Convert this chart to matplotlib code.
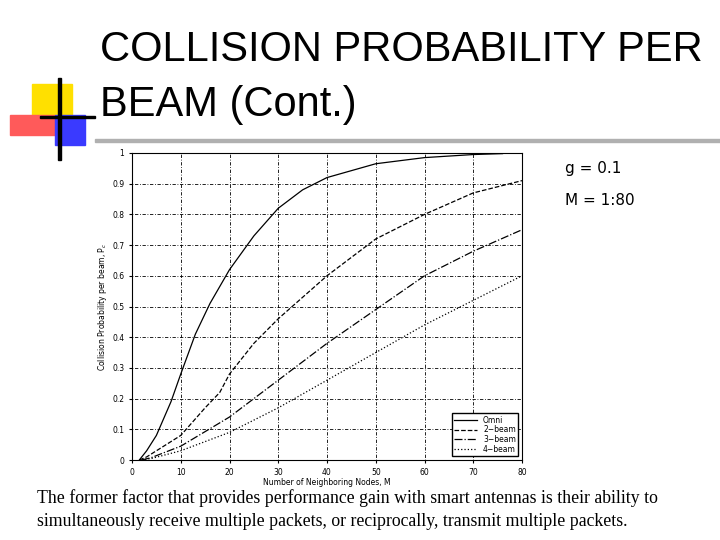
import matplotlib
matplotlib.use("Agg")
import matplotlib.pyplot as plt
from matplotlib.patches import Rectangle

omni_x = [1.5, 3, 5, 8, 10, 13, 16, 20, 25, 30, 35, 40, 50, 60, 70, 76]
omni_y = [0, 0.03, 0.08, 0.19, 0.28, 0.41, 0.51, 0.62, 0.73, 0.82, 0.88, 0.92, 0.965, 0.985, 0.995, 0.998]
b2_x = [1.5, 3, 5, 10, 15, 18, 20, 25, 30, 35, 40, 50, 60, 70, 80]
b2_y = [0, 0.01, 0.03, 0.08, 0.17, 0.22, 0.28, 0.38, 0.46, 0.53, 0.60, 0.72, 0.80, 0.87, 0.91]
b3_x = [2, 4, 10, 20, 30, 40, 50, 60, 70, 80]
b3_y = [0, 0.008, 0.045, 0.14, 0.26, 0.38, 0.49, 0.60, 0.68, 0.75]
b4_x = [2, 4, 10, 20, 30, 40, 50, 60, 70, 80]
b4_y = [0, 0.005, 0.03, 0.09, 0.17, 0.26, 0.35, 0.44, 0.52, 0.60]
labels = ["Omni", "2\u2212beam", "3\u2212beam", "4\u2212beam"]

fig = plt.figure(figsize=(7.2, 5.4), dpi=100)
# decorative logo
fig.patches.append(Rectangle((32/720, 1-120/540), 40/720, 36/540, transform=fig.transFigure, color="#ffe000", zorder=0))
fig.patches.append(Rectangle((10/720, 1-135/540), 45/720, 20/540, transform=fig.transFigure, color="#ff5a5a", zorder=1))
fig.patches.append(Rectangle((55/720, 1-145/540), 30/720, 30/540, transform=fig.transFigure, color="#3a3aff", zorder=1))
fig.patches.append(Rectangle((58/720, 1-160/540), 3/720, 82/540, transform=fig.transFigure, color="black", zorder=2))
fig.patches.append(Rectangle((40/720, 1-118/540), 55/720, 2/540, transform=fig.transFigure, color="black", zorder=2))
fig.patches.append(Rectangle((95/720, 1-142/540), 625/720, 3/540, transform=fig.transFigure, color="#b0b0b0", zorder=0))

fig.text(100/720, 1-50/540, "COLLISION PROBABILITY PER", fontsize=30, va="center", family="Liberation Sans")
fig.text(100/720, 1-105/540, "BEAM (Cont.)", fontsize=30, va="center", family="Liberation Sans")

ax = fig.add_axes([132/720, 80/540, 390/720, 307/540])
ax.plot(omni_x, omni_y, "k-", lw=0.9, label=labels[0])
ax.plot(b2_x, b2_y, "k--", lw=0.9, label=labels[1])
ax.plot(b3_x, b3_y, "k-.", lw=0.9, label=labels[2])
ax.plot(b4_x, b4_y, "k:", lw=0.9, label=labels[3])
ax.set_xlim(0, 80)
ax.set_ylim(0, 1)
ax.set_xticks(range(0, 81, 10))
ax.set_yticks([i/10 for i in range(11)])
ax.set_yticklabels(["0"] + [f"{i/10:.1f}" for i in range(1, 10)] + ["1"])
ax.grid(True, color="black", ls=(0, (1, 2, 4, 2)), lw=0.6)
ax.tick_params(labelsize=5.5, length=2)
ax.set_xlabel("Number of Neighboring Nodes, M", fontsize=5.5, labelpad=1)
ax.set_ylabel("Collision Probability per beam, P$_c$", fontsize=5.5, labelpad=2)
ax.legend(loc="lower right", fontsize=5.5, fancybox=False, edgecolor="black", framealpha=1, handlelength=3, borderpad=0.3, labelspacing=0.1)

fig.text(565/720, 1-173/540, "g = 0.1", fontsize=11)
fig.text(565/720, 1-205/540, "M = 1:80", fontsize=11)
fig.text(37/720, 1-498/540, "The former factor that provides performance gain with smart antennas is their ability to",
         fontsize=12.8, family="Liberation Serif", va="center")
fig.text(37/720, 1-521/540, "simultaneously receive multiple packets, or reciprocally, transmit multiple packets.",
         fontsize=12.8, family="Liberation Serif", va="center")
fig.savefig("out.png", dpi=100)
